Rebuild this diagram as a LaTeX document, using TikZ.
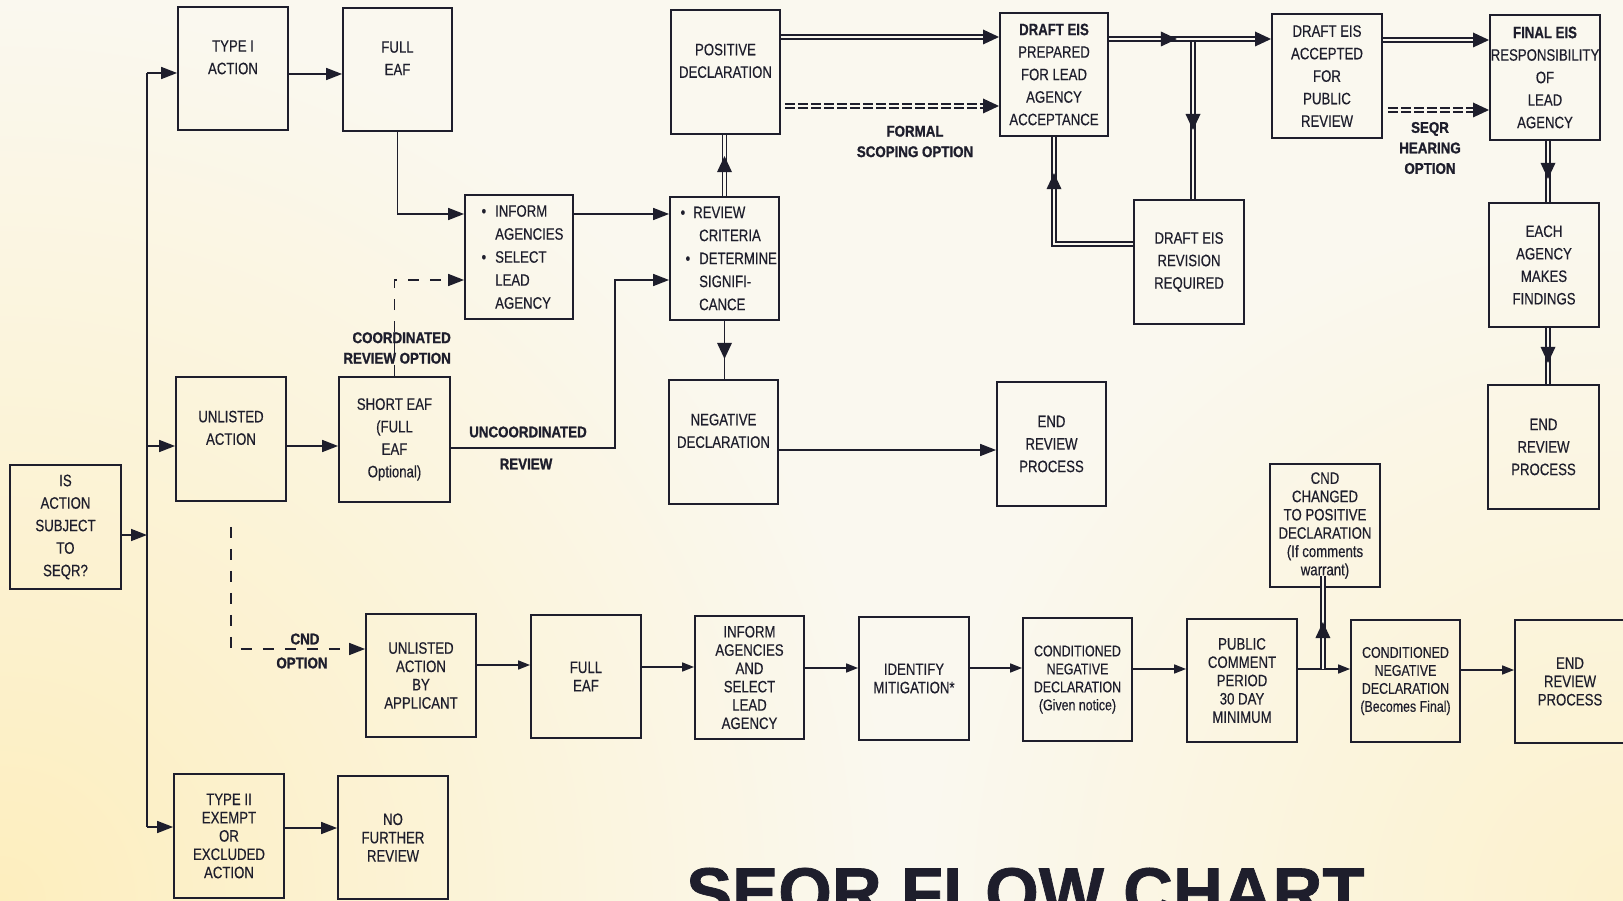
\documentclass[tikz,border=0pt]{standalone}
\usepackage{fontspec}
\setmainfont{Liberation Sans}[FakeStretch=0.8,FakeBold=0.4]
\newfontfamily\lblfam{Liberation Sans}[FakeStretch=0.86,FakeBold=1.2]
\newfontfamily\ttlfam{Liberation Sans}[FakeBold=1]
\usetikzlibrary{arrows.meta,decorations.markings}
\definecolor{bg}{RGB}{250,248,239}
\definecolor{ink}{RGB}{30,30,44}
\definecolor{paperY}{RGB}{253,238,190}
\newcommand\myfA{\fontsize{16.5}{22.5}\selectfont}
\newcommand\myfB{\fontsize{16.5}{18.3}\selectfont}
\newcommand\myfC{\fontsize{15.5}{18}\selectfont}
\newcommand\myfI{\fontsize{16.5}{23}\selectfont}
\newcommand\myfL{\lblfam\bfseries\fontsize{15.5}{20.5}\selectfont}
\newcommand\myfT{\ttlfam\bfseries\fontsize{69}{80}\selectfont}
\begin{document}
\begin{tikzpicture}[x=1pt,y=-1pt,
 box/.style={draw=ink,line width=1.8pt,align=center,inner sep=0pt,text=ink,font=\myfA,minimum width=110pt,minimum height=123pt},
 bot/.style={box,font=\myfB},
 txt/.style={inner sep=0pt,text=ink,font=\myfI},
 lbl/.style={inner sep=0pt,text=ink,font=\myfL,align=center},
 ln/.style={draw=ink,line width=1.6pt},
 arr/.style={ln,-{Triangle[length=16pt,width=12pt]}},
 arrs/.style={ln,-{Triangle[length=12pt,width=9pt]}},
 dsh/.style={dash pattern=on 11pt off 11pt},
 dbl/.style={draw=ink,line width=1.4pt,double=bg,double distance=2.8pt},
 ddsh/.style={dash pattern=on 10pt off 3pt},
 tipat/.style={postaction={decorate,decoration={markings,mark=at position #1 with {\fill[ink] (-16pt,-7.5pt) -- (0pt,0pt) -- (-16pt,7.5pt) -- cycle;}}}},
]
\useasboundingbox (0,0) rectangle (1623,901);
\clip (0,0) rectangle (1623,901);
\fill[bg] (0,0) rectangle (1623,901);
\shade[inner color=paperY,outer color=bg] (0,901) circle (900);
\shade[inner color=paperY!70!bg,outer color=bg] (1623,901) circle (700);

% ---------- boxes ----------
\node[box,minimum width=111pt,minimum height=124pt] (is) at (65.5,527) {IS\\ACTION\\SUBJECT\\TO\\SEQR?};
\node[box] (t1) at (233,68.5) {TYPE I\\ACTION\\\mbox{}};
\node[box,minimum width=109pt] (feaf) at (397.5,69.5) {FULL\\EAF\\\mbox{}};
\node[box,minimum width=108pt,minimum height=124pt] (inf) at (519,257) {};
\node[txt,anchor=west,align=left] (inft) at (495,257) {\llap{\textbullet\hspace{9pt}}INFORM\\AGENCIES\\\llap{\textbullet\hspace{9pt}}SELECT\\LEAD\\AGENCY};
\node[box,minimum width=109pt,minimum height=124pt] (pos) at (725.5,72) {POSITIVE\\DECLARATION\\\mbox{}};
\node[box,minimum width=109pt] (rev) at (724.5,258.5) {};
\node[txt,anchor=west,align=left] (revt) at (699,258.5) {\hspace*{-6pt}\llap{\textbullet\hspace{8pt}}REVIEW\\CRITERIA\\\llap{\textbullet\hspace{9pt}}DETERMINE\\SIGNIFI-\\CANCE};
\node[box,minimum width=109pt,minimum height=124pt] (neg) at (723.5,442) {NEGATIVE\\DECLARATION\\\mbox{}};
\node[box,minimum width=109pt,minimum height=124pt] (endm) at (1051.5,444) {END\\REVIEW\\PROCESS};
\node[box,minimum width=108pt] (deis) at (1054,74.5) {\textbf{DRAFT EIS}\\PREPARED\\FOR LEAD\\AGENCY\\ACCEPTANCE};
\node[box,minimum height=124pt] (drev) at (1189,262) {DRAFT EIS\\REVISION\\REQUIRED};
\node[box,minimum height=124pt] (dacc) at (1327,76) {DRAFT EIS\\ACCEPTED\\FOR\\PUBLIC\\REVIEW};
\node[box,minimum height=125pt] (feis) at (1545,77.5) {\textbf{FINAL EIS}\\RESPONSIBILITY\\OF\\LEAD\\AGENCY};
\node[box,minimum height=124pt] (each) at (1544,265) {EACH\\AGENCY\\MAKES\\FINDINGS};
\node[box,minimum width=111pt,minimum height=124pt] (endr) at (1543.5,447) {END\\REVIEW\\PROCESS};
\node[box,minimum height=124pt] (unl) at (231,439) {UNLISTED\\ACTION\\\mbox{}};
\node[box,minimum width=111pt,minimum height=125pt] (seaf) at (394.5,439.5) {SHORT EAF\\(FULL\\EAF\\Optional)};
\node[bot] (uba) at (421,675.5) {UNLISTED\\ACTION\\BY\\APPLICANT};
\node[bot] (feaf2) at (586,676.5) {FULL\\EAF};
\node[bot,minimum width=109pt] (inf2) at (749.5,677.5) {INFORM\\AGENCIES\\AND\\SELECT\\LEAD\\AGENCY};
\node[bot] (idm) at (914,678.5) {IDENTIFY\\MITIGATION*};
\node[bot,font=\myfC,minimum width=109pt] (cnd1) at (1077.5,679.5) {CONDITIONED\\NEGATIVE\\DECLARATION\\(Given notice)};
\node[bot] (pub) at (1242,680.5) {PUBLIC\\COMMENT\\PERIOD\\30 DAY\\MINIMUM};
\node[bot] (cndc) at (1325,525.5) {CND\\CHANGED\\TO POSITIVE\\DECLARATION\\(If comments\\warrant)};
\node[bot,font=\myfC,minimum width=109pt,minimum height=122pt] (cnd2) at (1405.5,681) {CONDITIONED\\NEGATIVE\\DECLARATION\\(Becomes Final)};
\node[bot] (endb) at (1570,681.5) {END\\REVIEW\\PROCESS};
\node[bot,minimum height=124pt] (t2) at (229,836) {TYPE II\\EXEMPT\\OR\\EXCLUDED\\ACTION};
\node[bot] (nfr) at (393,837.5) {NO\\FURTHER\\REVIEW};

% ---------- labels ----------
\node[lbl,align=right,anchor=east] (lco) at (451,348) {COORDINATED\\REVIEW OPTION};
\node[lbl] (lun1) at (528,432) {UNCOORDINATED};
\node[lbl] (lun2) at (526,464) {REVIEW};
\node[lbl] (lfs) at (915,141.5) {FORMAL\\SCOPING OPTION};
\node[lbl] (lsh) at (1430,148) {SEQR\\HEARING\\OPTION};
\node[lbl] (lcnd1) at (305,639) {CND};
\node[lbl] (lcnd2) at (302,663) {OPTION};
\node[anchor=base west,inner sep=0pt,font=\myfT,text=ink] (title) at (686,916) {SEQR FLOW CHART};

% ---------- connectors ----------
\coordinate (jt) at (147,73);
\coordinate (ju) at (147,446);
\coordinate (jis) at (147,535);
\coordinate (jb) at (147,827);
\draw[ln] (jt) -- (jb);
\draw[arr] (is.east |- jis) -- (jis);
\draw[arr] (jt) -- (jt -| t1.west);
\draw[arr] (ju) -- (ju -| unl.west);
\draw[arr] (jb) -- (jb -| t2.west);

\draw[arr] ([yshift=-5.5pt]t1.east) -- ([yshift=-5.5pt]t1.east -| feaf.west);
\draw[arr] (feaf.south) |- ([yshift=43pt]inf.west);
\draw[arr,dsh] (seaf.north) |- ([yshift=-23pt]inf.west);
\draw[arr] ([yshift=43pt]inf.east) -- ([yshift=43pt]inf.east -| rev.west);
\coordinate (cu) at (615,448);
\draw[arr] ([yshift=-8.5pt]seaf.east) -- (cu) |- ([yshift=-21.5pt]rev.west);
\draw[arr] ([yshift=-7pt]unl.east) -- ([yshift=-7pt]unl.east -| seaf.west);

\draw[dbl,tipat=40pt] (rev.north) -- (rev.north |- pos.south);
\draw[ln,tipat=38pt] (rev.south) -- (rev.south |- neg.north);
\draw[arr] ([yshift=-8pt]neg.east) -- ([yshift=-8pt]neg.east -| endm.west);

\draw[dbl,shorten >=8pt,tipat=-0.1pt] ([yshift=35pt]pos.east) -- ([yshift=35pt]pos.east -| deis.west);
\draw[dbl,ddsh,shorten >=8pt,tipat=-0.1pt] ([xshift=4pt,yshift=-34pt]pos.east) -- ([yshift=-34pt]pos.east -| deis.west);

\coordinate (jd) at (1193,39);
\draw[dbl,tipat=91pt] (jd) -- (jd |- drev.north);
\draw[dbl,shorten >=8pt,tipat=68pt,tipat=-0.1pt] ([yshift=35.5pt]deis.east) -- ([yshift=35.5pt]deis.east -| dacc.west);
\draw[dbl,tipat=150pt] ([yshift=18pt]drev.west) -| (deis.south);

\draw[dbl,shorten >=8pt,tipat=-0.1pt] ([yshift=36pt]dacc.east) -- ([yshift=36pt]dacc.east -| feis.west);
\draw[dbl,ddsh,shorten >=8pt,tipat=-0.1pt] ([xshift=5pt,yshift=-34pt]dacc.east) -- ([yshift=-34pt]dacc.east -| feis.west);
\draw[dbl,tipat=38pt] ([xshift=3pt]feis.south) -- ([xshift=3pt]feis.south |- each.north);
\draw[dbl,tipat=35pt] ([xshift=4pt]each.south) -- ([xshift=4pt]each.south |- endr.north);

\draw[arr,dsh] ([yshift=-25pt]unl.south) |- ([yshift=26.5pt]uba.west);
\draw[arrs] ([yshift=10.5pt]uba.east) -- ([yshift=10.5pt]uba.east -| feaf2.west);
\draw[arrs] ([yshift=9.5pt]feaf2.east) -- ([yshift=9.5pt]feaf2.east -| inf2.west);
\draw[arrs] ([yshift=9.5pt]inf2.east) -- ([yshift=9.5pt]inf2.east -| idm.west);
\draw[arrs] ([yshift=10.5pt]idm.east) -- ([yshift=10.5pt]idm.east -| cnd1.west);
\draw[arrs] ([yshift=10.5pt]cnd1.east) -- ([yshift=10.5pt]cnd1.east -| pub.west);
\draw[arrs] ([yshift=11.5pt]pub.east) -- ([yshift=11.5pt]pub.east -| cnd2.west);
\draw[dbl,tipat=47pt] ([xshift=25pt,yshift=11.5pt]pub.east) -- ([xshift=25pt,yshift=11.5pt]pub.east |- cndc.south);
\draw[arrs] ([yshift=11pt]cnd2.east) -- ([yshift=11pt]cnd2.east -| endb.west);
\draw[arr] ([yshift=8pt]t2.east) -- ([yshift=8pt]t2.east -| nfr.west);
\end{tikzpicture}
\end{document}
